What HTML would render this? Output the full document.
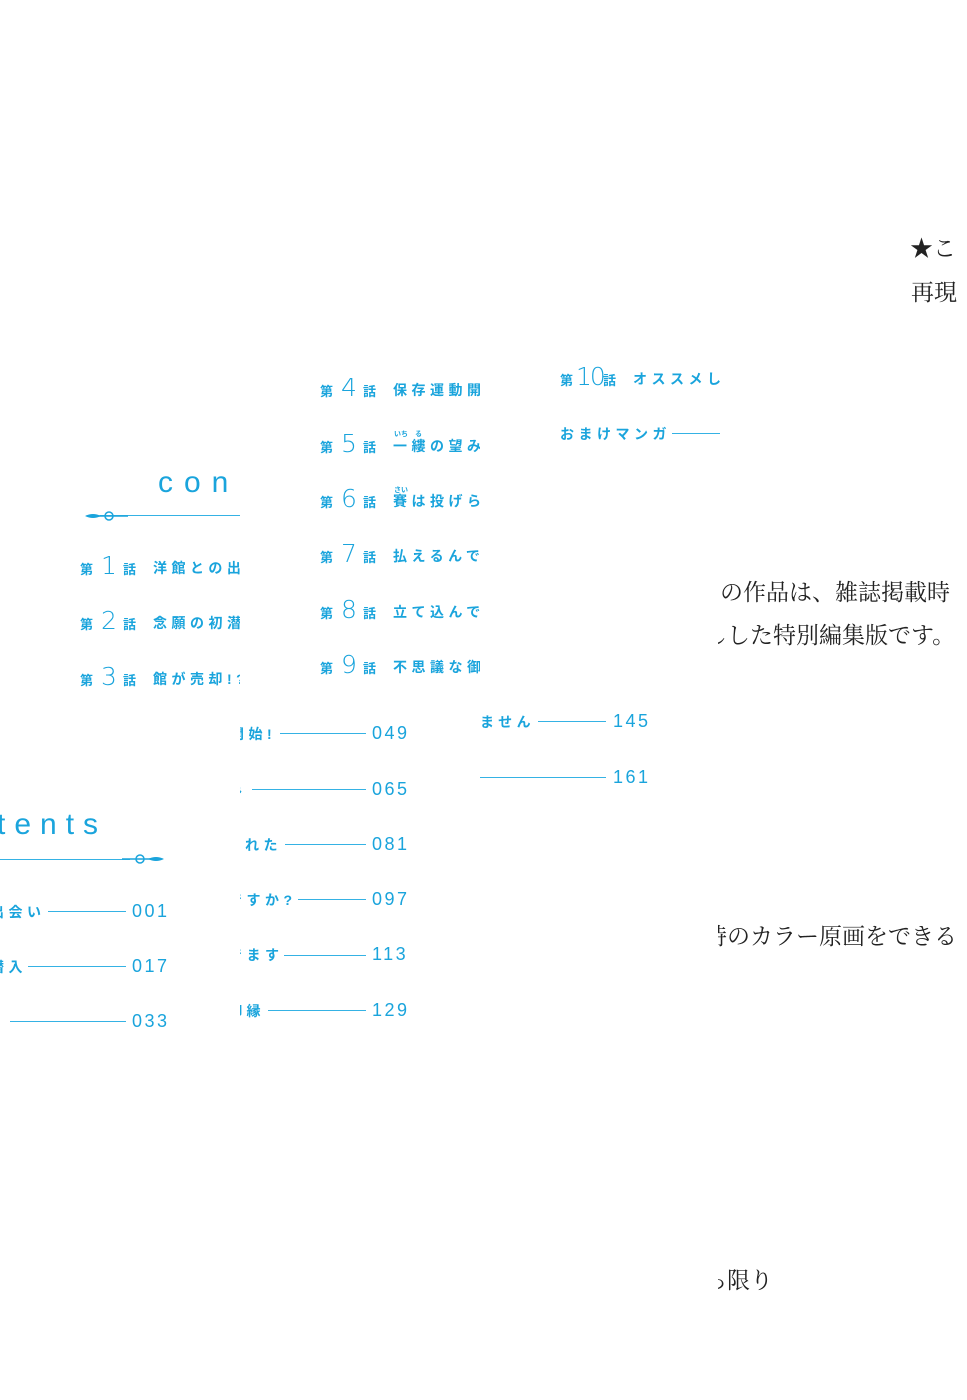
<!DOCTYPE html>
<html><head><meta charset="utf-8"><style>
html,body{margin:0;padding:0;background:#fff;}
body{width:967px;height:1400px;position:relative;overflow:hidden;font-family:"Liberation Sans","Noto Sans CJK JP",sans-serif;color:#1aa4dc;}
.a{position:absolute;white-space:nowrap;}
.clip{position:absolute;overflow:hidden;white-space:nowrap;}
.dai{font-size:13px;font-weight:bold;}
.num{font-size:25px;font-weight:300;font-family:"DejaVu Sans","Liberation Sans",sans-serif;}
.ti{font-size:14px;font-weight:bold;letter-spacing:4.5px;}
.ln{position:absolute;height:1.3px;background:#35b2e4;}
.pg{position:absolute;font-size:18px;letter-spacing:2.5px;font-family:"Liberation Sans",sans-serif;line-height:1;}
.blk{position:absolute;white-space:nowrap;color:#222;font-family:"Liberation Serif","Noto Serif CJK SC",serif;font-size:23px;}
.ruby{position:absolute;font-size:7px;font-weight:bold;}
</style></head><body>

<div class="blk" style="left:910px;top:230px;">★こ</div>
<div class="blk" style="left:911px;top:274px;">再現</div>
<div class="clip blk" style="left:720px;top:574px;width:250px;height:32px;">の作品は、雑誌掲載時</div>
<div class="clip blk" style="left:718px;top:617px;width:250px;height:32px;"><span style="margin-left:-14px">し</span>した特別編集版です。</div>
<div class="clip blk" style="left:718px;top:918px;width:250px;height:32px;"><span style="margin-left:-14px">時</span>のカラー原画をできる</div>
<div class="clip blk" style="left:718px;top:1262px;width:80px;height:32px;"><span style="margin-left:-14px">ら</span>限り</div>

<div class="clip" style="left:158px;top:466px;width:82px;height:40px;font-size:30px;letter-spacing:11px;font-weight:300;">con</div>
<div class="ln" style="left:100px;top:515px;width:140px;"></div>
<svg class="a" style="left:84px;top:508px" width="44" height="16"><path d="M1 8 Q9 4 17 8 Q9 12 1 8Z" fill="#1aa4dc"/><circle cx="25" cy="8" r="4" fill="none" stroke="#1aa4dc" stroke-width="1.5"/><line x1="15" y1="8" x2="44" y2="8" stroke="#1aa4dc" stroke-width="1.5"/></svg>
<div class="clip" style="left:0px;top:808px;width:110px;height:40px;font-size:30px;letter-spacing:9px;font-weight:300;"><span style="margin-left:-3px">tents</span></div>
<div class="ln" style="left:0px;top:859px;width:130px;"></div>
<svg class="a" style="left:122px;top:851px" width="44" height="16"><circle cx="18" cy="8" r="4" fill="none" stroke="#1aa4dc" stroke-width="1.5"/><line x1="0" y1="8" x2="29" y2="8" stroke="#1aa4dc" stroke-width="1.5"/><path d="M26 8 Q34 4 42 8 Q34 12 26 8Z" fill="#1aa4dc"/></svg>

<div class="a dai" style="left:80px;top:559px;">第</div><div class="a num" style="left:101px;top:551px;">1</div><div class="a dai" style="left:123px;top:559px;">話</div>
<div class="clip ti" style="left:153px;top:558px;width:87px;height:22px;">洋館との出会い</div>
<div class="a dai" style="left:80px;top:614px;">第</div><div class="a num" style="left:101px;top:606px;">2</div><div class="a dai" style="left:123px;top:614px;">話</div>
<div class="clip ti" style="left:153px;top:613px;width:87px;height:22px;">念願の初潜入</div>
<div class="a dai" style="left:80px;top:670px;">第</div><div class="a num" style="left:101px;top:662px;">3</div><div class="a dai" style="left:123px;top:670px;">話</div>
<div class="clip ti" style="left:153px;top:669px;width:87px;height:22px;">館が売却!?</div>

<div class="a ti" style="left:0px;top:902px;"><span style="margin-left:-10px">出</span>会い</div>
<div class="ln" style="left:48px;top:911px;width:78px;"></div><div class="pg" style="left:132px;top:902px;">001</div>
<div class="a ti" style="left:0px;top:957px;"><span style="margin-left:-10px">潜</span>入</div>
<div class="ln" style="left:28px;top:966px;width:98px;"></div><div class="pg" style="left:132px;top:957px;">017</div>
<div class="a ti" style="left:0px;top:1012px;"><span style="margin-left:-10px">?</span></div>
<div class="ln" style="left:10px;top:1021px;width:116px;"></div><div class="pg" style="left:132px;top:1012px;">033</div>

<div class="a dai" style="left:320px;top:381px;">第</div><div class="a num" style="left:341px;top:373px;">4</div><div class="a dai" style="left:363px;top:381px;">話</div>
<div class="clip ti" style="left:393px;top:380px;width:87px;height:22px;">保存運動開始</div>
<div class="a dai" style="left:320px;top:437px;">第</div><div class="a num" style="left:341px;top:429px;">5</div><div class="a dai" style="left:363px;top:437px;">話</div>
<div class="ruby" style="left:394px;top:429px;">いち</div><div class="ruby" style="left:415px;top:429px;">る</div>
<div class="clip ti" style="left:393px;top:436px;width:87px;height:22px;">一縷の望み</div>
<div class="a dai" style="left:320px;top:492px;">第</div><div class="a num" style="left:341px;top:484px;">6</div><div class="a dai" style="left:363px;top:492px;">話</div>
<div class="ruby" style="left:394px;top:485px;">さい</div>
<div class="clip ti" style="left:393px;top:491px;width:87px;height:22px;">賽は投げられた</div>
<div class="a dai" style="left:320px;top:547px;">第</div><div class="a num" style="left:341px;top:539px;">7</div><div class="a dai" style="left:363px;top:547px;">話</div>
<div class="clip ti" style="left:393px;top:546px;width:87px;height:22px;">払えるんですか?</div>
<div class="a dai" style="left:320px;top:603px;">第</div><div class="a num" style="left:341px;top:595px;">8</div><div class="a dai" style="left:363px;top:603px;">話</div>
<div class="clip ti" style="left:393px;top:602px;width:87px;height:22px;">立て込んでます</div>
<div class="a dai" style="left:320px;top:658px;">第</div><div class="a num" style="left:341px;top:650px;">9</div><div class="a dai" style="left:363px;top:658px;">話</div>
<div class="clip ti" style="left:393px;top:657px;width:87px;height:22px;">不思議な御縁</div>

<div class="clip ti" style="left:240px;top:724px;width:40px;height:22px;"><span style="margin-left:-10px">開</span>始!</div>
<div class="ln" style="left:280px;top:733px;width:86px;"></div><div class="pg" style="left:372px;top:724px;">049</div>
<div class="clip ti" style="left:240px;top:780px;width:10px;height:22px;"><span style="margin-left:-12px">み</span></div>
<div class="ln" style="left:252px;top:789px;width:114px;"></div><div class="pg" style="left:372px;top:780px;">065</div>
<div class="a ti" style="left:245px;top:835px;">れた</div>
<div class="ln" style="left:285px;top:844px;width:81px;"></div><div class="pg" style="left:372px;top:835px;">081</div>
<div class="clip ti" style="left:240px;top:890px;width:60px;height:22px;"><span style="margin-left:-12px">で</span>すか?</div>
<div class="ln" style="left:298px;top:899px;width:68px;"></div><div class="pg" style="left:372px;top:890px;">097</div>
<div class="clip ti" style="left:240px;top:945px;width:45px;height:22px;"><span style="margin-left:-12px">で</span>ます</div>
<div class="ln" style="left:284px;top:955px;width:82px;"></div><div class="pg" style="left:372px;top:945px;">113</div>
<div class="clip ti" style="left:240px;top:1001px;width:30px;height:22px;"><span style="margin-left:-12px">御</span>縁</div>
<div class="ln" style="left:268px;top:1010px;width:98px;"></div><div class="pg" style="left:372px;top:1001px;">129</div>

<div class="a dai" style="left:560px;top:370px;">第</div><div class="a num" style="left:576px;top:362px;letter-spacing:-2px;">10</div><div class="a dai" style="left:603px;top:370px;">話</div>
<div class="clip ti" style="left:633px;top:369px;width:87px;height:22px;">オススメしません</div>
<div class="a ti" style="left:560px;top:424px;">おまけマンガ</div>
<div class="ln" style="left:672px;top:433px;width:48px;"></div>
<div class="a ti" style="left:480px;top:712px;">ません</div>
<div class="ln" style="left:538px;top:721px;width:68px;"></div><div class="pg" style="left:613px;top:712px;">145</div>
<div class="ln" style="left:480px;top:777px;width:126px;"></div><div class="pg" style="left:613px;top:768px;">161</div>

</body></html>
